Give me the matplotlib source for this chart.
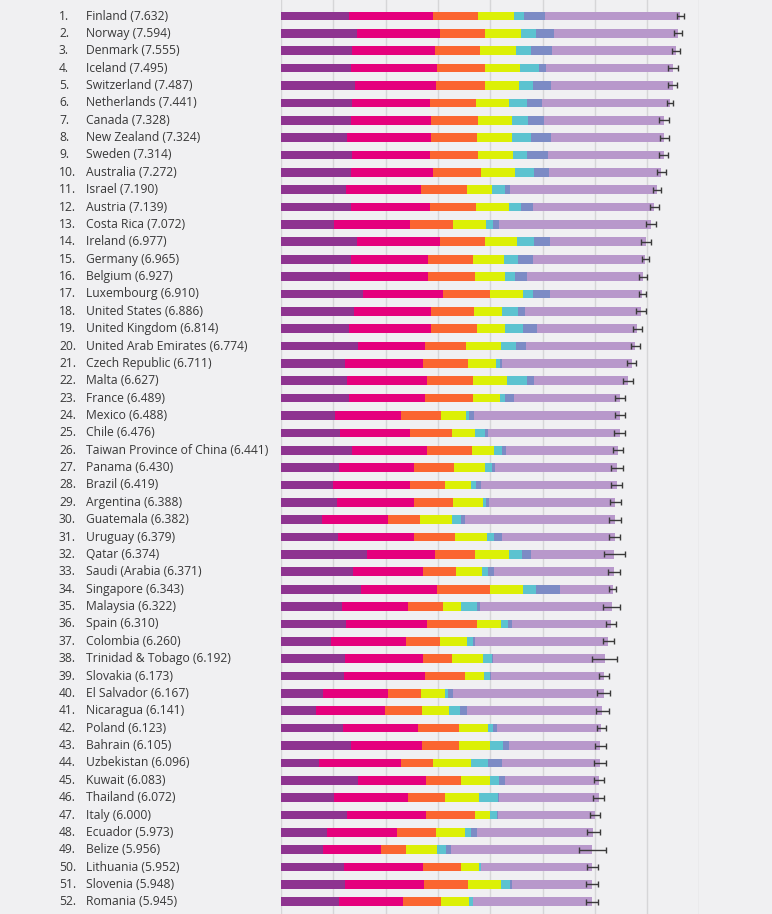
"""World happiness ranking 2018 (ranks 1-52): stacked explanatory factors."""

import matplotlib
matplotlib.use("Agg")
import matplotlib.pyplot as plt
import numpy as np

countries = [
    "Finland", "Norway", "Denmark", "Iceland", "Switzerland", "Netherlands",
    "Canada", "New Zealand", "Sweden", "Australia", "Israel", "Austria",
    "Costa Rica", "Ireland", "Germany", "Belgium", "Luxembourg",
    "United States", "United Kingdom", "United Arab Emirates",
    "Czech Republic", "Malta", "France", "Mexico", "Chile",
    "Taiwan Province of China", "Panama", "Brazil", "Argentina", "Guatemala",
    "Uruguay", "Qatar", "Saudi (Arabia", "Singapore", "Malaysia", "Spain",
    "Colombia", "Trinidad & Tobago", "Slovakia", "El Salvador", "Nicaragua",
    "Poland", "Bahrain", "Uzbekistan", "Kuwait", "Thailand", "Italy",
    "Ecuador", "Belize", "Lithuania", "Slovenia", "Romania",
]
scores = [
    7.632, 7.594, 7.555, 7.495, 7.487, 7.441, 7.328, 7.324, 7.314, 7.272,
    7.190, 7.139, 7.072, 6.977, 6.965, 6.927, 6.910, 6.886, 6.814, 6.774,
    6.711, 6.627, 6.489, 6.488, 6.476, 6.441, 6.430, 6.419, 6.388, 6.382,
    6.379, 6.374, 6.371, 6.343, 6.322, 6.310, 6.260, 6.192, 6.173, 6.167,
    6.141, 6.123, 6.105, 6.096, 6.083, 6.072, 6.000, 5.973, 5.956, 5.952,
    5.948, 5.945,
]
gdp = [
    1.305, 1.456, 1.351, 1.343, 1.420, 1.361, 1.330, 1.268, 1.355, 1.340,
    1.244, 1.341, 1.010, 1.448, 1.340, 1.324, 1.576, 1.398, 1.301, 1.463,
    1.233, 1.270, 1.293, 1.038, 1.131, 1.365, 1.112, 0.986, 1.073, 0.781,
    1.093, 1.649, 1.379, 1.529, 1.161, 1.251, 0.960, 1.223, 1.210, 0.806,
    0.668, 1.176, 1.338, 0.719, 1.474, 1.016, 1.264, 0.889, 0.807, 1.197,
    1.219, 1.116,
]
social = [
    1.592, 1.582, 1.590, 1.644, 1.549, 1.488, 1.532, 1.601, 1.501, 1.573,
    1.433, 1.504, 1.459, 1.583, 1.474, 1.483, 1.520, 1.471, 1.559, 1.299,
    1.489, 1.525, 1.466, 1.252, 1.331, 1.436, 1.438, 1.474, 1.468, 1.268,
    1.459, 1.303, 1.331, 1.451, 1.258, 1.538, 1.439, 1.492, 1.537, 1.231,
    1.319, 1.448, 1.366, 1.584, 1.301, 1.417, 1.501, 1.330, 1.101, 1.527,
    1.506, 1.219,
]
health = [
    0.874, 0.861, 0.868, 0.914, 0.927, 0.878, 0.896, 0.876, 0.913, 0.910,
    0.888, 0.891, 0.817, 0.876, 0.861, 0.894, 0.896, 0.819, 0.883, 0.776,
    0.854, 0.884, 0.908, 0.761, 0.808, 0.857, 0.759, 0.675, 0.744, 0.608,
    0.771, 0.748, 0.633, 1.008, 0.669, 0.965, 0.635, 0.564, 0.776, 0.639,
    0.700, 0.781, 0.698, 0.605, 0.675, 0.707, 0.946, 0.736, 0.474, 0.716,
    0.856, 0.726,
]
freedom = [
    0.681, 0.686, 0.683, 0.677, 0.660, 0.638, 0.653, 0.669, 0.659, 0.647,
    0.464, 0.617, 0.632, 0.614, 0.586, 0.583, 0.632, 0.547, 0.533, 0.670,
    0.543, 0.645, 0.520, 0.479, 0.431, 0.418, 0.597, 0.493, 0.570, 0.604,
    0.625, 0.654, 0.509, 0.631, 0.356, 0.449, 0.531, 0.575, 0.354, 0.461,
    0.527, 0.546, 0.594, 0.724, 0.554, 0.637, 0.281, 0.556, 0.593, 0.350,
    0.633, 0.528,
]
generosity = [
    0.202, 0.286, 0.284, 0.353, 0.256, 0.333, 0.321, 0.365, 0.285, 0.361,
    0.262, 0.242, 0.143, 0.307, 0.273, 0.188, 0.196, 0.291, 0.354, 0.284,
    0.064, 0.376, 0.098, 0.069, 0.197, 0.151, 0.125, 0.110, 0.062, 0.179,
    0.130, 0.256, 0.098, 0.261, 0.311, 0.142, 0.099, 0.171, 0.118, 0.065,
    0.208, 0.108, 0.243, 0.328, 0.167, 0.364, 0.137, 0.114, 0.183, 0.026,
    0.160, 0.088,
]
corruption = [
    0.393, 0.340, 0.408, 0.138, 0.357, 0.295, 0.291, 0.389, 0.383, 0.302,
    0.082, 0.224, 0.101, 0.306, 0.280, 0.240, 0.321, 0.133, 0.272, 0.186,
    0.034, 0.142, 0.176, 0.095, 0.061, 0.078, 0.063, 0.088, 0.054, 0.071,
    0.155, 0.171, 0.127, 0.457, 0.059, 0.074, 0.039, 0.019, 0.014, 0.082,
    0.128, 0.064, 0.123, 0.259, 0.106, 0.029, 0.028, 0.120, 0.089, 0.006,
    0.051, 0.001,
]
# half width of the 95% confidence interval
ci_half = [
    0.064, 0.073, 0.073, 0.100, 0.090, 0.057, 0.095, 0.086, 0.086, 0.086,
    0.083, 0.086, 0.090, 0.096, 0.064, 0.073, 0.067, 0.096, 0.086, 0.086,
    0.086, 0.096, 0.096, 0.096, 0.105, 0.099, 0.118, 0.108, 0.105, 0.115,
    0.099, 0.207, 0.110, 0.070, 0.156, 0.090, 0.110, 0.240, 0.090, 0.124,
    0.127, 0.086, 0.105, 0.120, 0.092, 0.099, 0.092, 0.120, 0.250, 0.100,
    0.110, 0.110,
]

colors = ["#8e3490", "#e5007d", "#fb6530", "#dcf006", "#5cc3d0", "#7c8bc5", "#b898cb"]
bg = "#f0f0f2"

components = [gdp, social, health, freedom, generosity, corruption]
dystopia = np.array(scores) - np.sum(components, axis=0)
components.append(dystopia)

fig = plt.figure(figsize=(7.72, 9.14), dpi=100, facecolor=bg)
ax = fig.add_axes([281 / 772, 0, (699.4 - 281) / 772, 1])
ax.set_facecolor(bg)

y = np.arange(len(countries))
left = np.zeros(len(countries))
for vals, col in zip(components, colors):
    ax.barh(y, vals, left=left, height=0.5, color=col, zorder=3)
    left += np.array(vals)

ax.errorbar(scores, y, xerr=ci_half, fmt="none", ecolor="#3a3a3a",
            elinewidth=1.0, capsize=2.5, capthick=1.0, zorder=4)

ax.set_xlim(0, 8)
ax.set_ylim(51.70, -0.921)
ax.set_xticks(range(9))
ax.set_yticks([])
ax.tick_params(axis="x", length=0, labelbottom=False)
ax.grid(axis="x", color="#d6d6d8", linewidth=1.0, zorder=0)
for side in ax.spines.values():
    side.set_visible(False)

for i, (name, sc) in enumerate(zip(countries, scores)):
    ypix = 914 - (16 + i * 17.37)
    fig.text(59 / 772, ypix / 914, f"{i + 1}.", ha="left", va="center",
             fontsize=8.7, color="#383838", family="Open Sans")
    fig.text(86 / 772, ypix / 914, f"{name} ({sc:.3f})", ha="left", va="center",
             fontsize=8.7, color="#383838", family="Open Sans")

fig.savefig("out.png", dpi=100, facecolor=bg)
